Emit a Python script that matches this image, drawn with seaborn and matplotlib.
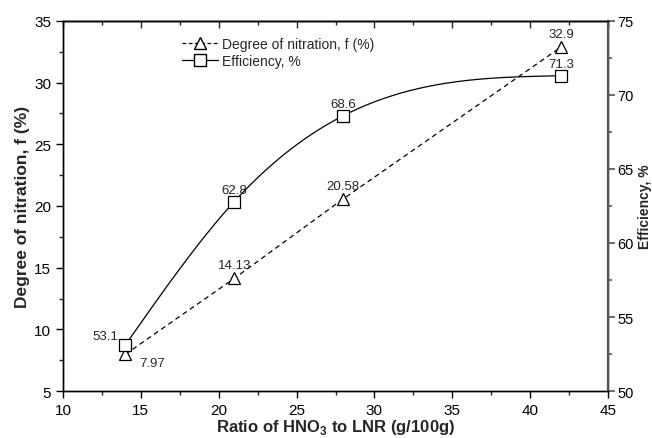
import numpy as np
import pandas as pd
import seaborn as sns
import matplotlib
matplotlib.use("Agg")
import matplotlib.pyplot as plt
from matplotlib.lines import Line2D
from matplotlib.ticker import MultipleLocator

# === data ===
ratio = [14, 21, 28, 42]
nitration = [7.97, 14.13, 20.58, 32.9]
efficiency = [53.1, 62.8, 68.6, 71.3]
nit_labels = ["7.97", "14.13", "20.58", "32.9"]
eff_labels = ["53.1", "62.8", "68.6", "71.3"]

sns.set_theme(style="ticks")
plt.rcParams['font.family'] = ['Liberation Sans', 'DejaVu Sans']
plt.rcParams['mathtext.fontset'] = 'custom'
plt.rcParams['mathtext.rm'] = 'Liberation Sans:bold'
plt.rcParams['mathtext.bf'] = 'Liberation Sans:bold'


def natural_spline(x, y, n=200):
    # natural cubic spline through the points (smooth connecting line)
    x = np.asarray(x, float); y = np.asarray(y, float)
    k = len(x) - 1
    h = np.diff(x)
    A = np.zeros((k + 1, k + 1)); b = np.zeros(k + 1)
    A[0, 0] = A[k, k] = 1
    for i in range(1, k):
        A[i, i - 1] = h[i - 1]; A[i, i] = 2 * (h[i - 1] + h[i]); A[i, i + 1] = h[i]
        b[i] = 6 * ((y[i + 1] - y[i]) / h[i] - (y[i] - y[i - 1]) / h[i - 1])
    M = np.linalg.solve(A, b)
    xs = np.linspace(x[0], x[-1], n)
    idx = np.clip(np.searchsorted(x, xs) - 1, 0, k - 1)
    x0, x1 = x[idx], x[idx + 1]; hh = x1 - x0
    ys = (M[idx] * (x1 - xs) ** 3 / (6 * hh) + M[idx + 1] * (xs - x0) ** 3 / (6 * hh)
          + (y[idx] / hh - M[idx] * hh / 6) * (x1 - xs)
          + (y[idx + 1] / hh - M[idx + 1] * hh / 6) * (xs - x0))
    return xs, ys


fig = plt.figure(figsize=(6.52, 4.39), dpi=100)
ax = fig.add_axes([0.0966, 0.107, 0.836, 0.843])
ax2 = ax.twinx()

df = pd.DataFrame({'ratio': ratio, 'nit': nitration, 'eff': efficiency})

sns.lineplot(data=df, x='ratio', y='nit', ax=ax, color='black', lw=0.9,
             linestyle=(0, (4, 3)), marker='^', markersize=9,
             markerfacecolor='white', markeredgecolor='black', markeredgewidth=0.9)

xs, ys = natural_spline(ratio, efficiency)
sns.lineplot(x=xs, y=ys, ax=ax2, color='black', lw=0.9)
sns.scatterplot(data=df, x='ratio', y='eff', ax=ax2, marker='s', s=65,
                facecolor='white', edgecolor='black', linewidth=0.9, zorder=3)

# value labels
fs = 9.5
ax.annotate(nit_labels[0], (ratio[0], nitration[0]), xytext=(10, -2), textcoords='offset points',
            ha='left', va='top', fontsize=fs)
for i in range(1, 4):
    ax.annotate(nit_labels[i], (ratio[i], nitration[i]), xytext=(0, 5), textcoords='offset points',
                ha='center', va='bottom', fontsize=fs)
ax2.annotate(eff_labels[0], (ratio[0], efficiency[0]), xytext=(-5, 2), textcoords='offset points',
             ha='right', va='bottom', fontsize=fs)
for i in range(1, 4):
    ax2.annotate(eff_labels[i], (ratio[i], efficiency[i]), xytext=(0, 4), textcoords='offset points',
                 ha='center', va='bottom', fontsize=fs)

ax.set_xlim(10, 45)
ax.set_ylim(5, 35)
ax2.set_ylim(50, 75)
ax.xaxis.set_major_locator(MultipleLocator(5))
ax.xaxis.set_minor_locator(MultipleLocator(2.5))
ax.yaxis.set_major_locator(MultipleLocator(5))
ax.yaxis.set_minor_locator(MultipleLocator(2.5))
ax2.yaxis.set_major_locator(MultipleLocator(5))
ax2.yaxis.set_minor_locator(MultipleLocator(2.5))

for a in (ax, ax2):
    for s in a.spines.values():
        s.set_visible(True)
        s.set_linewidth(1.0)
        s.set_color('black')
ax2.spines['right'].set_color('#555555')
ax2.spines['right'].set_linewidth(1.6)
ax.tick_params(which='major', direction='out', length=5, width=1, labelsize=11, colors='black')
ax.tick_params(which='minor', direction='out', length=3, width=1)
ax2.tick_params(which='major', direction='out', length=5, width=1.2, labelsize=10.5, pad=1.5,
                color='#555555', labelcolor='black')
ax2.tick_params(which='minor', direction='out', length=3, width=1.2, color='#555555')

top = ax.secondary_xaxis('top')
top.xaxis.set_major_locator(MultipleLocator(5))
top.xaxis.set_minor_locator(MultipleLocator(2.5))
top.tick_params(which='major', direction='in', length=5, width=1, labeltop=False)
top.tick_params(which='minor', direction='in', length=3, width=1)
top.spines['top'].set_linewidth(1.0)

ax.set_xlabel(r'Ratio of HNO$_{3}$ to LNR (g/100g)', fontsize=12, fontweight='bold', labelpad=0)
ax.set_ylabel('Degree of nitration, f (%)', fontsize=12.5, fontweight='bold', labelpad=3)
ax2.set_ylabel('Efficiency, %', fontsize=10, fontweight='bold', va='center')
ax2.yaxis.set_label_coords(1.067, 0.5)

handles = [
    Line2D([], [], color='black', lw=0.9, linestyle=(0, (3, 2)), marker='^', markersize=9,
           markerfacecolor='white', markeredgecolor='black'),
    Line2D([], [], color='black', lw=0.9, marker='s', markersize=8,
           markerfacecolor='white', markeredgecolor='black'),
]
ax.legend(handles, ['Degree of nitration, f (%)', 'Efficiency, %'], loc='upper left',
          bbox_to_anchor=(0.195, 0.99), frameon=False, fontsize=10, handlelength=2.6,
          handletextpad=0.3, labelspacing=0.2)

fig.savefig('out.png', dpi=100)
